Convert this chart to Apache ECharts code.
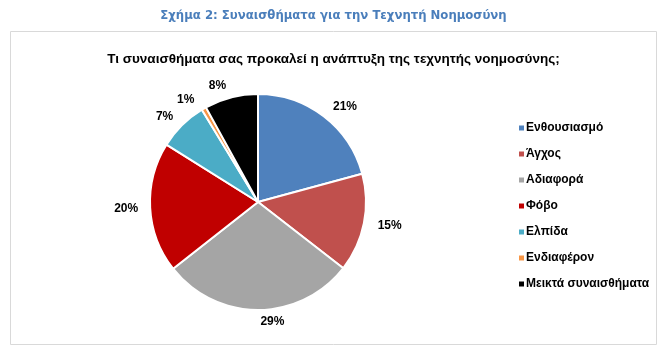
<!DOCTYPE html>
<html>
<head>
<meta charset="utf-8">
<script src="https://cdn.jsdelivr.net/npm/echarts@6/dist/echarts.min.js"></script>
<style>
html,body{margin:0;padding:0;background:#fff;}
#chart{width:667px;height:359px;}
</style>
</head>
<body>
<div id="chart"></div>
<script>
var figureTitle = 'Σχήμα 2: Συναισθήματα για την Τεχνητή Νοημοσύνη';
var chartTitle = 'Τι συναισθήματα σας προκαλεί η ανάπτυξη της τεχνητής νοημοσύνης;';
var categories = ['Ενθουσιασμό', 'Άγχος', 'Αδιαφορά', 'Φόβο', 'Ελπίδα', 'Ενδιαφέρον', 'Μεικτά συναισθήματα'];
var values = [20.8, 14.7, 28.9, 19.5, 7.4, 0.7, 8.0];
var colors = ['#4f81bd', '#c0504d', '#a5a5a5', '#c00000', '#4bacc6', '#f79646', '#000000'];

var sans = '"Liberation Sans", Arial, sans-serif';

var chart = echarts.init(document.getElementById('chart'));
chart.setOption({
  animation: false,
  color: colors,
  title: [{
    text: figureTitle,
    left: 'center',
    top: 4,
    textStyle: {color: '#4a7ebb', fontSize: 13, fontWeight: 'bold', fontFamily: '"DejaVu Sans Condensed", "Liberation Sans", Arial, sans-serif'}
  }, {
    text: chartTitle,
    left: 'center',
    top: 47,
    textStyle: {color: '#000', fontSize: 13.5, fontWeight: 'bold', fontFamily: sans}
  }],
  graphic: [{
    type: 'rect',
    shape: {x: 10.5, y: 31.5, width: 646, height: 313},
    style: {fill: 'none', stroke: '#d9d9d9', lineWidth: 1},
    silent: true
  }],
  legend: {
    orient: 'vertical',
    left: 512,
    top: 117,
    itemWidth: 7,
    itemHeight: 7,
    itemGap: 14,
    icon: 'rect',
    textStyle: {color: '#000', fontSize: 12, fontWeight: 'bold', fontFamily: sans, padding: [0, 0, 0, -4]},
    data: categories
  },
  series: [{
    type: 'pie',
    center: [258, 202],
    radius: 108,
    startAngle: 90,
    clockwise: true,
    itemStyle: {borderColor: '#fff', borderWidth: 2},
    label: {
      show: true,
      position: 'outside',
      formatter: function (p) { return Math.round(p.value) + '%'; },
      color: '#000',
      fontSize: 12,
      fontWeight: 'bold',
      fontFamily: sans,
      distanceToLabelLine: 2
    },
    labelLine: {show: false, length: 12, length2: 0},
    data: categories.map(function (c, i) { return {name: c, value: values[i]}; })
  }]
});
</script>
</body>
</html>
